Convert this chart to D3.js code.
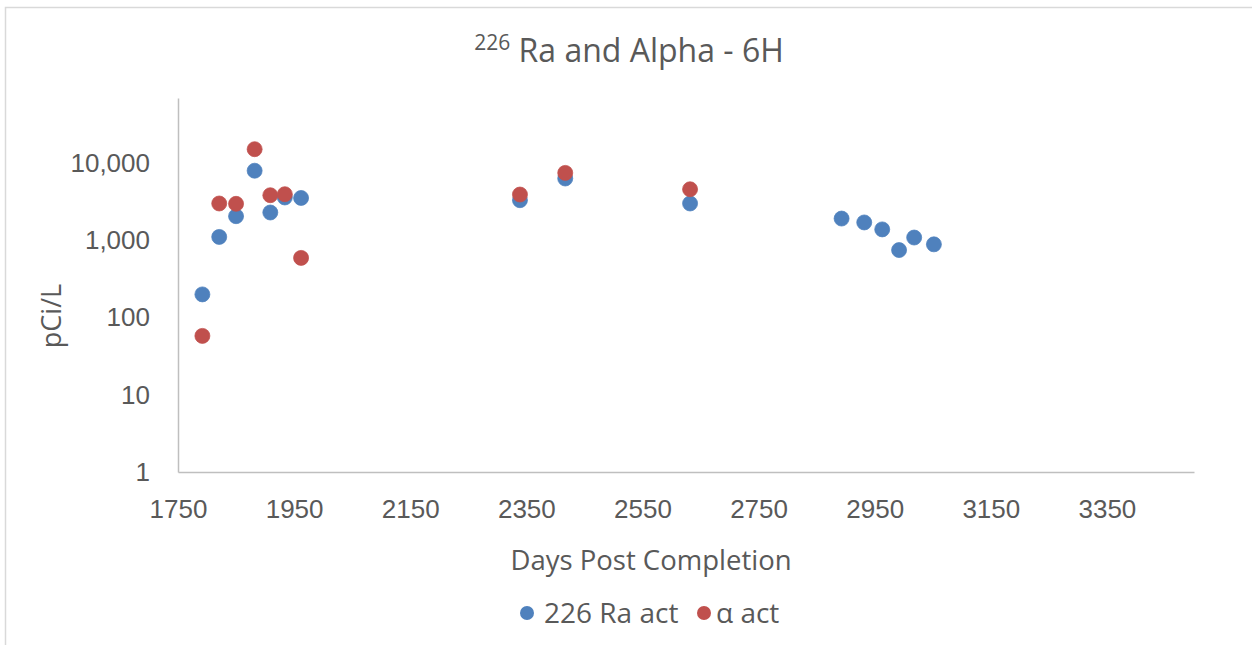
<!DOCTYPE html>
<html>
<head>
<meta charset="utf-8">
<script src="https://cdn.jsdelivr.net/npm/d3@7"></script>
<style>
  html, body { margin: 0; padding: 0; background: #fff; }
  svg { display: block; font-family: "Open Sans", "DejaVu Sans", sans-serif; }
</style>
</head>
<body>
<svg id="chart" width="1252" height="645"></svg>
<script>
// 226Ra activity samples (days post completion, pCi/L)
const raDays = [1792, 1821, 1850, 1882, 1909, 1934, 1962, 2339, 2417, 2632, 2893, 2932, 2963, 2992, 3018, 3052];
const raValues = [200, 1110, 2060, 8000, 2300, 3600, 3550, 3320, 6340, 3010, 1920, 1710, 1390, 750, 1090, 890];

// Gross alpha activity samples
const alphaDays = [1792, 1821, 1850, 1882, 1909, 1934, 1962, 2339, 2417, 2632];
const alphaValues = [58, 3010, 2980, 15200, 3850, 3970, 594, 3930, 7500, 4600];

// Axis ticks
const xTicks = [1750, 1950, 2150, 2350, 2550, 2750, 2950, 3150, 3350];
const yTicks = [1, 10, 100, 1000, 10000];

const seriesNames = ["226 Ra act", "\u03b1 act"];
const seriesColors = ["#4F81BD", "#C0504D"];

const svg = d3.select("#chart");
const textColor = "#595959";
const axisColor = "#BFBFBF";

// Chart area frame
svg.append("rect")
  .attr("x", 5.5).attr("y", 7.5)
  .attr("width", 1300).attr("height", 700)
  .attr("fill", "#fff")
  .attr("stroke", "#D9D9D9")
  .attr("stroke-width", 1.5);

const x = d3.scaleLinear().domain([1750, 3500]).range([178, 1194]);
const y = d3.scaleLog().domain([1, 70000]).range([472, 98]);

// X axis
const gx = svg.append("g")
  .attr("transform", `translate(0,${y(1)})`)
  .call(d3.axisBottom(x).tickValues(xTicks).tickFormat(d3.format("d")).tickSize(0).tickSizeOuter(0).tickPadding(28));
gx.select(".domain").attr("stroke", axisColor).attr("stroke-width", 1.5);
gx.selectAll("text").attr("fill", textColor).style("font-size", "26px").style("font-family", null);

// Y axis
const gy = svg.append("g")
  .attr("transform", `translate(${x(1750)},0)`)
  .call(d3.axisLeft(y).tickValues(yTicks).tickFormat(d3.format(",")).tickSize(0).tickSizeOuter(0).tickPadding(28));
gy.select(".domain").attr("stroke", axisColor).attr("stroke-width", 1.5);
gy.selectAll("text").attr("fill", textColor).style("font-size", "26px").style("font-family", null);

// Title with superscript isotope mass number
const title = svg.append("text")
  .attr("x", 629).attr("y", 62)
  .attr("text-anchor", "middle")
  .attr("fill", textColor)
  .style("font-size", "32px");
title.append("tspan").text("226").style("font-size", "21px").attr("dy", -12);
title.append("tspan").text(" Ra and Alpha - 6H").attr("dy", 12);

// Axis titles
svg.append("text")
  .attr("x", 651).attr("y", 570)
  .attr("text-anchor", "middle")
  .attr("fill", textColor)
  .style("font-size", "27.5px")
  .text("Days Post Completion");

svg.append("text")
  .attr("transform", "translate(61,316) rotate(-90)")
  .attr("text-anchor", "middle")
  .attr("fill", textColor)
  .style("font-size", "27px")
  .text("pCi/L");

// Scatter markers
const series = [
  { days: raDays, values: raValues },
  { days: alphaDays, values: alphaValues }
];
series.forEach((s, i) => {
  svg.append("g")
    .selectAll("circle")
    .data(s.days.map((d, j) => [d, s.values[j]]))
    .join("circle")
    .attr("cx", d => x(d[0]))
    .attr("cy", d => y(d[1]))
    .attr("r", 7.5)
    .attr("fill", seriesColors[i])
    .attr("stroke", seriesColors[i])
    .attr("stroke-width", 0.75);
});

// Legend
const legendItems = [
  { x: 527, tx: 544, name: seriesNames[0], color: seriesColors[0] },
  { x: 704, tx: 716, name: seriesNames[1], color: seriesColors[1] }
];
const lg = svg.append("g");
legendItems.forEach(it => {
  lg.append("circle").attr("cx", it.x).attr("cy", 613).attr("r", 7).attr("fill", it.color);
  lg.append("text").attr("x", it.tx).attr("y", 623)
    .attr("fill", textColor).style("font-size", "28px").text(it.name);
});
</script>
</body>
</html>
